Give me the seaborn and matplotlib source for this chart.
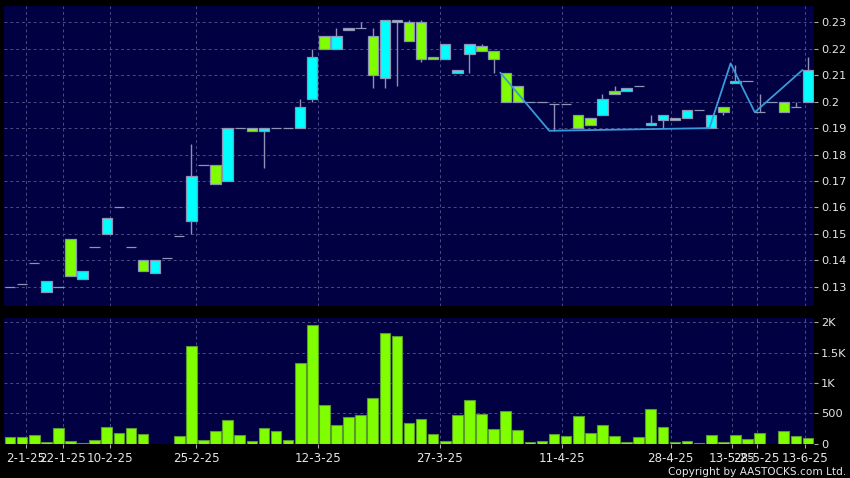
import numpy as np
import pandas as pd
import seaborn as sns
import matplotlib.pyplot as plt

# OHLC per trading session
opens = [0.130, 0.131, 0.139, 0.128, 0.130, 0.148, 0.133, 0.145, 0.150, 0.160,
         0.145, 0.140, 0.135, 0.141, 0.149, 0.155, 0.176, 0.176, 0.170, 0.190,
         0.190, 0.189, 0.190, 0.190, 0.190, 0.201, 0.225, 0.220, 0.227, 0.228,
         0.225, 0.209, 0.231, 0.230, 0.230, 0.217, 0.216, 0.211, 0.218, 0.221,
         0.219, 0.211, 0.206, 0.200, 0.200, 0.199, 0.199, 0.195, 0.194, 0.195,
         0.204, 0.204, 0.206, 0.191, 0.193, 0.194, 0.194, 0.197, 0.190, 0.198,
         0.207, 0.208, 0.196, 0.200, 0.200, 0.198, 0.200]
closes = [0.130, 0.131, 0.139, 0.132, 0.130, 0.134, 0.136, 0.145, 0.156, 0.160,
          0.145, 0.136, 0.140, 0.141, 0.149, 0.172, 0.176, 0.169, 0.190, 0.190,
          0.189, 0.190, 0.190, 0.190, 0.198, 0.217, 0.220, 0.225, 0.228, 0.228,
          0.210, 0.231, 0.230, 0.223, 0.216, 0.216, 0.222, 0.212, 0.222, 0.219,
          0.216, 0.200, 0.200, 0.200, 0.200, 0.199, 0.199, 0.190, 0.191, 0.201,
          0.203, 0.205, 0.206, 0.192, 0.195, 0.193, 0.197, 0.197, 0.195, 0.196,
          0.208, 0.208, 0.196, 0.200, 0.196, 0.198, 0.212]
highs = [0.130, 0.131, 0.139, 0.132, 0.130, 0.148, 0.136, 0.145, 0.156, 0.160,
         0.145, 0.140, 0.140, 0.141, 0.149, 0.184, 0.176, 0.176, 0.190, 0.190,
         0.190, 0.190, 0.190, 0.190, 0.201, 0.220, 0.225, 0.228, 0.228, 0.230,
         0.228, 0.231, 0.231, 0.231, 0.231, 0.217, 0.222, 0.212, 0.222, 0.222,
         0.219, 0.211, 0.206, 0.200, 0.200, 0.199, 0.199, 0.195, 0.194, 0.203,
         0.206, 0.205, 0.206, 0.195, 0.195, 0.194, 0.197, 0.197, 0.195, 0.198,
         0.214, 0.208, 0.203, 0.200, 0.200, 0.200, 0.217]
lows = [0.130, 0.131, 0.139, 0.128, 0.130, 0.134, 0.133, 0.145, 0.150, 0.160,
        0.145, 0.136, 0.135, 0.141, 0.149, 0.150, 0.176, 0.169, 0.170, 0.190,
        0.189, 0.175, 0.190, 0.190, 0.190, 0.200, 0.220, 0.220, 0.227, 0.228,
        0.205, 0.205, 0.206, 0.223, 0.215, 0.216, 0.216, 0.211, 0.211, 0.219,
        0.211, 0.200, 0.200, 0.200, 0.200, 0.189, 0.199, 0.190, 0.191, 0.195,
        0.203, 0.204, 0.206, 0.191, 0.190, 0.193, 0.194, 0.197, 0.190, 0.195,
        0.207, 0.208, 0.196, 0.200, 0.196, 0.198, 0.200]
volumes = [104, 104, 137, 27, 258, 38, 11, 60, 275, 176,
           258, 159, 0, 0, 132, 1603, 55, 203, 390, 143,
           44, 258, 214, 66, 1334, 1954, 631, 313, 434, 478,
           752, 1823, 1773, 346, 412, 154, 49, 478, 719, 489,
           236, 533, 225, 27, 49, 159, 126, 456, 170, 302,
           126, 27, 115, 566, 275, 27, 49, 5, 148, 27,
           137, 82, 181, 0, 203, 132, 93]

# overlay line (position in sessions, price)
line_pos = [40.55, 44.6, 57.85, 59.6, 61.6, 65.55]
line_val = [0.211, 0.189, 0.190, 0.2145, 0.196, 0.212]

date_labels = ["2-1-25", "22-1-25", "10-2-25", "25-2-25", "12-3-25", "27-3-25",
               "11-4-25", "28-4-25", "13-5-25", "28-5-25", "13-6-25"]
date_pos = [1.3, 4.35, 8.3, 15.4, 25.5, 35.55, 45.65, 54.65, 59.7, 61.75, 65.75]

price_ticks = [0.13, 0.14, 0.15, 0.16, 0.17, 0.18, 0.19, 0.2, 0.21, 0.22, 0.23]
vol_ticks = [0, 500, 1000, 1500, 2000]
vol_labels = ["0", "500", "1K", "1.5K", "2K"]

df = pd.DataFrame({"open": opens, "high": highs, "low": lows,
                   "close": closes, "volume": volumes})
df["idx"] = np.arange(len(df))

UP = "#00FFFF"
DOWN = "#80FF00"
NAVY = "#000042"
GRID = "#4c4c84"
TXT = "#e6e6e6"

sns.set_theme(style="dark")
plt.rcParams["font.family"] = ["DejaVu Sans"]

fig = plt.figure(figsize=(8.5, 4.78), dpi=100, facecolor="black")
ax = fig.add_axes([4 / 850, 1 - 306 / 478, 810 / 850, 300 / 478])
axv = fig.add_axes([4 / 850, 1 - 444 / 478, 810 / 850, 126 / 478])

for a in (ax, axv):
    a.set_facecolor(NAVY)
    for s in a.spines.values():
        s.set_visible(False)

# candles
colors = [UP if c > o else (DOWN if c < o else NAVY) for o, c in zip(df["open"], df["close"])]
ax.vlines(df["idx"], df["low"], df["high"], color="#9090b4", lw=1, zorder=2)
ax.bar(df["idx"], (df["close"] - df["open"]).abs(),
       bottom=df[["open", "close"]].min(axis=1), width=0.86,
       color=colors, edgecolor="#8c96b4", linewidth=0.9, zorder=3)
sns.lineplot(x=line_pos, y=line_val, ax=ax, color="#3a9ad9", lw=1.3, zorder=4)

ax.set_xlim(-0.5, len(df) - 0.5)
ax.set_ylim(0.1227, 0.2362)
ax.yaxis.tick_right()
ax.set_yticks(price_ticks)
ax.set_yticklabels([f"{v:g}" for v in price_ticks])
ax.set_xticks(date_pos)
ax.tick_params(axis="x", bottom=False, labelbottom=False)
ax.tick_params(axis="y", right=True, length=3, width=0.8, color="#aaaaaa",
               labelcolor=TXT, labelsize=8.2, pad=2)
ax.set_xlabel("")
ax.set_ylabel("")
ax.grid(True, color=GRID, linestyle=(0, (3, 3)), lw=0.7)

# volume
vol_edges = ["#5a9a2c" if v > 0 else NAVY for v in volumes]
sns.barplot(data=df, x="idx", y="volume", ax=axv, color=DOWN, saturation=1,
            errorbar=None, width=0.88, linewidth=0.8, zorder=3)
for patch, ec in zip(axv.patches, vol_edges):
    patch.set_edgecolor(ec)
axv.set_xlim(-0.5, len(df) - 0.5)
axv.set_ylim(-5, 2071)
axv.yaxis.tick_right()
axv.set_yticks(vol_ticks)
axv.set_yticklabels(vol_labels)
axv.set_xticks(date_pos)
axv.set_xticklabels(date_labels)
axv.tick_params(axis="x", bottom=True, length=3, width=0.8, color="#aaaaaa",
                labelcolor=TXT, labelsize=8.6, pad=3)
axv.tick_params(axis="y", right=True, length=3, width=0.8, color="#aaaaaa",
                labelcolor=TXT, labelsize=8.2, pad=2)
axv.set_xlabel("")
axv.set_ylabel("")
axv.grid(True, color=GRID, linestyle=(0, (3, 3)), lw=0.7)

fig.text(0.995, 0.002, "Copyright by AASTOCKS.com Ltd.", color=TXT,
         fontsize=7.6, ha="right", va="bottom")

fig.savefig("out.png", dpi=100, facecolor="black")
